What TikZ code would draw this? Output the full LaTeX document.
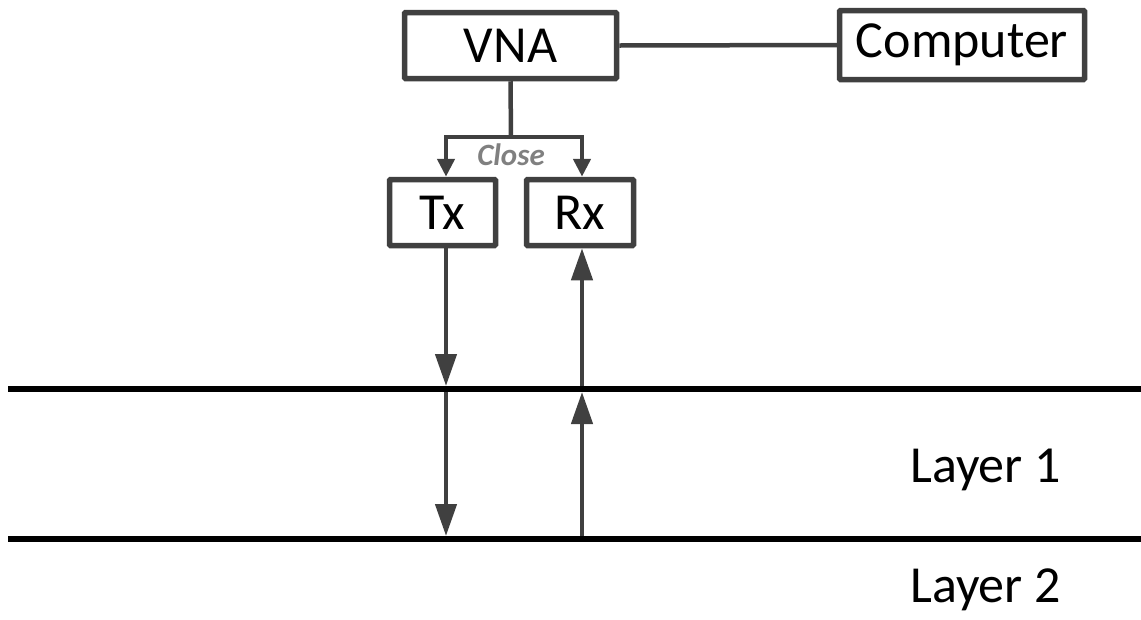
\documentclass[tikz,border=0pt]{standalone}
\usepackage{fontspec}
\setmainfont{Carlito}
\usetikzlibrary{arrows.meta}
\definecolor{boxgray}{HTML}{404040}
\definecolor{labelgray}{HTML}{808080}
\begin{document}
\begin{tikzpicture}[x=1pt,y=-1pt,
  box/.style={draw=boxgray,line width=5.5pt,rounded corners=1pt,fill=white,inner sep=0pt,
    font=\fontsize{52}{60}\selectfont},
  conn/.style={draw=boxgray,line width=4.5pt},
  bigtip/.style={-{Triangle[length=32pt,width=21pt]}},
  smalltip/.style={-{Triangle[length=18pt,width=17pt]}},
  layerline/.style={draw=black,line width=6pt},
  layerlabel/.style={anchor=base west,inner sep=0pt,font=\fontsize{52}{60}\selectfont}]
\useasboundingbox (0,0) rectangle (1141,619);
% boxes
\node[box,minimum width=212pt,minimum height=66pt] (VNA) at (510.5,45.5) {VNA};
\node[box,minimum width=245pt,minimum height=69pt] (Comp) at (962,45) {Computer};
\node[box,minimum width=106pt,minimum height=66pt] (Tx) at (442.5,212.5) {Tx};
\node[box,minimum width=107pt,minimum height=66pt] (Rx) at (580,212.5) {Rx};
% connectors top
\draw[conn] (VNA.east) -- (Comp.west);
\coordinate (br) at (511,137);
\coordinate (tl) at (446,137);
\coordinate (rl) at (582,137);
\draw[conn] (VNA.south) -- (br);
\draw[conn,smalltip] (br) -- (tl) -- (tl |- Tx.north);
\draw[conn,smalltip] (br) -- (rl) -- (rl |- Rx.north);
\node[font=\fontsize{31}{34}\selectfont\bfseries\itshape,text=labelgray,inner sep=0pt] (close) at (511,155) {Close};
% layer lines
\coordinate (L1a) at (8,389);
\coordinate (L1b) at (1141,389);
\coordinate (L2a) at (8,539);
\coordinate (L2b) at (1141,539);
\draw[layerline] (L1a) -- (L1b);
\draw[layerline] (L2a) -- (L2b);
% vertical arrows
\coordinate (t1) at (446,386);
\coordinate (t1b) at (446,392);
\coordinate (t2) at (446,536);
\coordinate (r1) at (582,386);
\coordinate (r1b) at (582,392);
\coordinate (r2) at (582,536);
\draw[conn,bigtip] (Tx.south -| t1) -- (t1);
\draw[conn,bigtip] (t1b) -- (t2);
\draw[conn,bigtip] (r1) -- (Rx.south -| r1);
\draw[conn,bigtip] (r2) -- (r1b);
% layer labels
\node[layerlabel] (lay1) at (910,482) {Layer 1};
\node[layerlabel] (lay2) at (910,602) {Layer 2};
\end{tikzpicture}
\end{document}
